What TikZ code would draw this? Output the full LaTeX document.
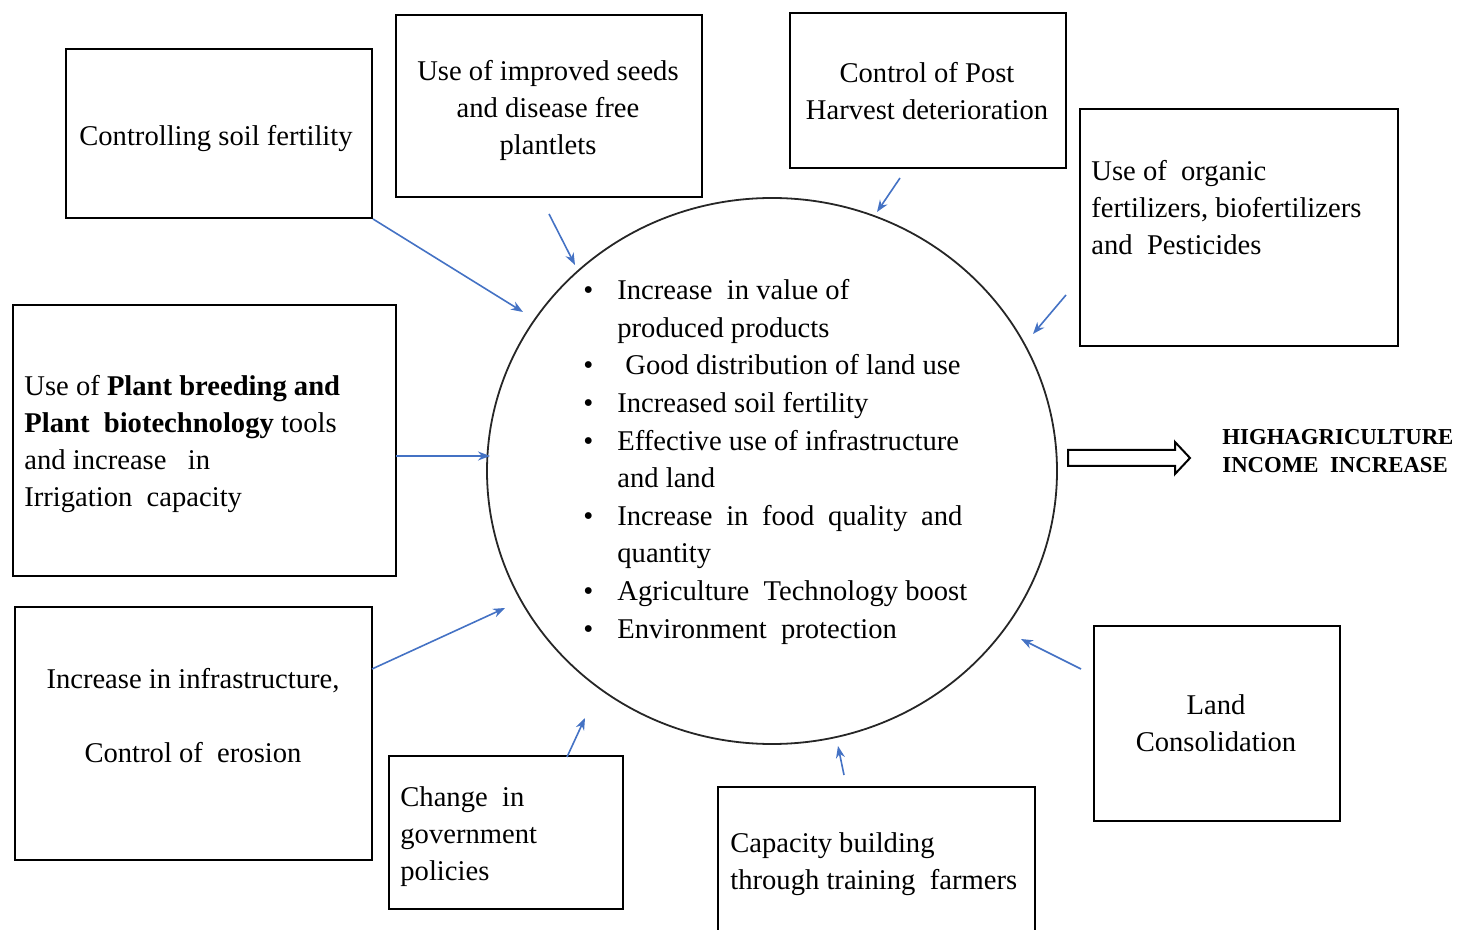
\documentclass[tikz,border=0pt]{standalone}
\usepackage{fontspec}
\setmainfont{Liberation Serif}
\usetikzlibrary{positioning}
\usetikzlibrary{shapes}
\usetikzlibrary{arrows.meta}
\definecolor{linkblue}{RGB}{68,114,196}

\tikzset{
  box/.style={draw, line width=1pt, inner sep=0pt},
  feed/.style={draw=linkblue, line width=0.8pt, -{Stealth[length=6pt,width=4.5pt]}},
  txt/.style={inner sep=0pt, font=\fontsize{14.3}{18.5}\selectfont},
}

\begin{document}
\begin{tikzpicture}[x=0.5pt,y=0.5pt,yscale=-1,xscale=1]
\path[use as bounding box, clip] (0,0) rectangle (1457,930);

%Shape: Ellipse [id:hub]
\node[draw=black!85, ellipse, line width=0.9pt, minimum width=285pt, minimum height=273pt, inner sep=0pt] (hub) at (772,471) {};

%Shape: Rectangles
\node[box, minimum width=153pt, minimum height=84.5pt] (soilbox) at (219,133.5) {};
\node[box, minimum width=153pt, minimum height=91pt] (seedbox) at (549,106) {};
\node[box, minimum width=138pt, minimum height=77.5pt] (postbox) at (928,90.5) {};
\node[box, minimum width=159pt, minimum height=118.5pt] (organicbox) at (1239,227.5) {};
\node[box, minimum width=191.5pt, minimum height=135.5pt] (breedbox) at (204.5,440.5) {};
\node[box, minimum width=178.5pt, minimum height=126.5pt] (infrabox) at (193.5,733.5) {};
\node[box, minimum width=117pt, minimum height=76.5pt] (policybox) at (506,832.5) {};
\node[box, minimum width=158.5pt, minimum height=80pt] (trainbox) at (876.5,867) {};
\node[box, minimum width=123pt, minimum height=97.5pt] (landbox) at (1217,723.5) {};

% Text Node
\node[txt, anchor=north] (soiltext) at (216,125) {Controlling soil fertility};
% Text Node
\node[txt, anchor=north, align=center] (seedtext) at (548,60) {Use of improved seeds\\ and disease free\\ plantlets};
% Text Node
\node[txt, anchor=north, align=center] (posttext) at (927,62) {Control of Post\\ Harvest deterioration};
% Text Node
\node[txt, anchor=north west, align=left] (organictext) at (1091,160) {Use of\ \ organic\\ fertilizers, biofertilizers\\ and\ \ Pesticides};
% Text Node
\node[txt, anchor=north west, align=left] (breedtext) at (24,375) {Use of \textbf{Plant breeding and}\\ \textbf{Plant\ \ biotechnology} tools\\ and increase\ \ \ in\\ Irrigation\ \ capacity};
% Text Node
\node[txt, anchor=north, align=center] (infratext) at (193,668) {Increase in infrastructure,\\[18.5pt] Control of\ \ erosion};
% Text Node
\node[txt, anchor=north west, align=left] (policytext) at (400,786) {Change\ \ in\\ government\\ policies};
% Text Node
\node[txt, anchor=north west, align=left] (traintext) at (730,832) {Capacity building\\ through training\ \ farmers};
% Text Node
\node[txt, anchor=north, align=center] (landtext) at (1216,694) {Land\\ Consolidation};

% Text Node: list in the circle
\node[inner sep=0pt, anchor=north west, font=\fontsize{14.3}{18.8}\selectfont] (gains) at (583,273) {%
\begin{tabular}{@{}l@{\hspace{12pt}}l@{}}
\textbullet & Increase\ \ in value of\\
 & produced products\\
\textbullet & \hspace{4pt}Good distribution of land use\\
\textbullet & Increased soil fertility\\
\textbullet & Effective use of infrastructure\\
 & and land\\
\textbullet & \makebox[172.5pt][s]{Increase in food quality and}\\
 & quantity\\
\textbullet & Agriculture\ \ Technology boost\\
\textbullet & Environment\ \ protection
\end{tabular}};

% Text Node: result
\node[inner sep=0pt, anchor=north west, align=left, font=\fontsize{11.4}{14}\selectfont\bfseries] (result) at (1222,429) {HIGHAGRICULTURE\\ INCOME\ \ INCREASE};

%Shape: hollow arrow to result
\draw[line width=1pt] (1068,450) -- (1175,450) -- (1175,442) -- (1190,458) -- (1175,474) -- (1175,466) -- (1068,466) -- cycle;

% Arrow ends
\coordinate (seedfoot) at (549,214);
\coordinate (postfoot) at (900,178);
\coordinate (organicfoot) at (1066,295);
\coordinate (breedfoot) at (396,456);
\coordinate (infrafoot) at (372,669);
\coordinate (policyfoot) at (567,757);
\coordinate (trainfoot) at (844,775);
\coordinate (landfoot) at (1081,669);
\coordinate (soiltip) at (523,312);
\coordinate (seedtip) at (575,265);
\coordinate (posttip) at (877,212);
\coordinate (organictip) at (1033,334);
\coordinate (breedtip) at (490,456);
\coordinate (infratip) at (505,608);
\coordinate (policytip) at (585,718);
\coordinate (traintip) at (838,746);
\coordinate (landtip) at (1021,639);

% Arrows
\draw[feed] (soilbox.south east) -- (soiltip);
\draw[feed] (seedfoot) -- (seedtip);
\draw[feed] (postfoot) -- (posttip);
\draw[feed] (organicfoot) -- (organictip);
\draw[feed] (breedfoot) -- (breedtip);
\draw[feed] (infrafoot) -- (infratip);
\draw[feed] (policyfoot) -- (policytip);
\draw[feed] (trainfoot) -- (traintip);
\draw[feed] (landfoot) -- (landtip);

\end{tikzpicture}
\end{document}
